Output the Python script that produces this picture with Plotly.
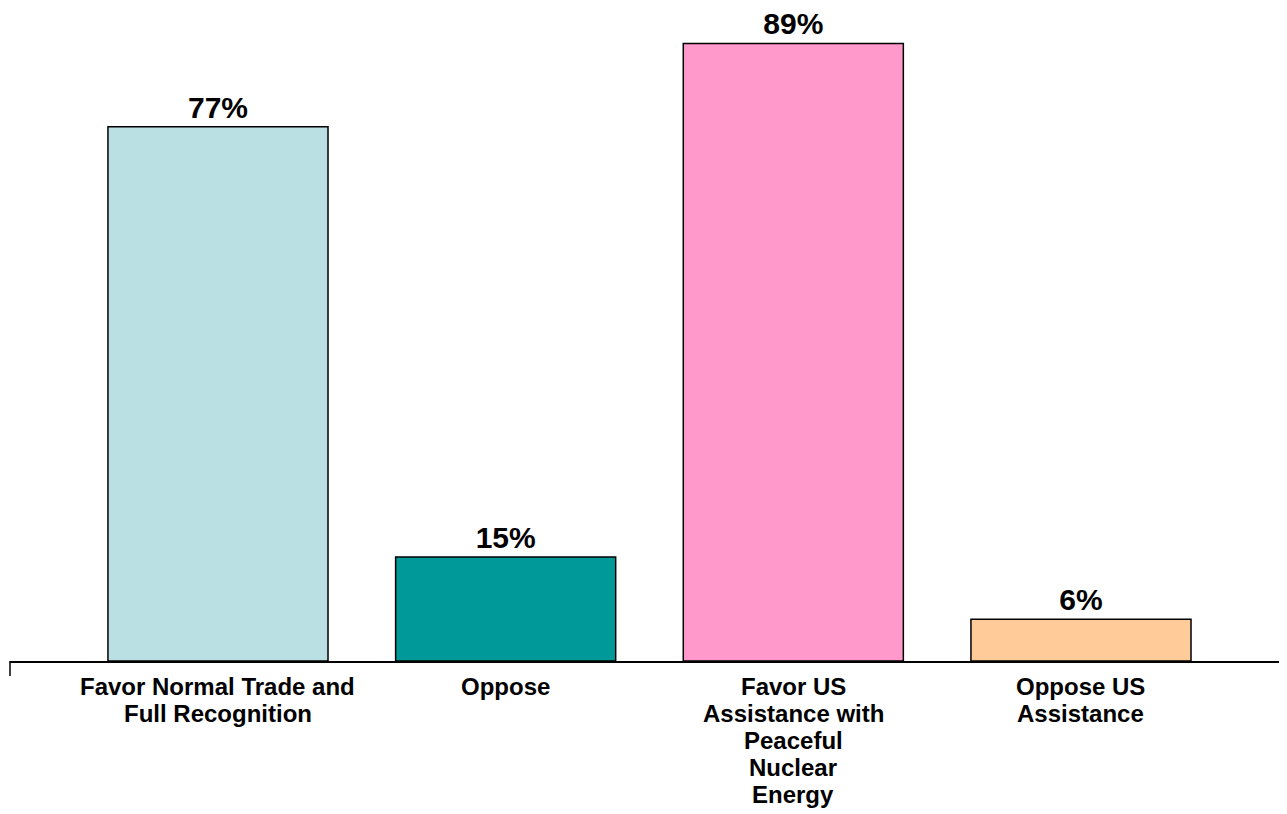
import plotly.graph_objects as go

categories = [
    "Favor Normal Trade and<br>Full Recognition",
    "Oppose",
    "Favor US<br>Assistance with<br>Peaceful<br>Nuclear<br>Energy",
    "Oppose US<br>Assistance",
]
values = [77, 15, 89, 6]
colors = ["#BBE0E3", "#009999", "#FF99CC", "#FFCC99"]

FONT = "Liberation Sans, Arial, sans-serif"

fig = go.Figure(
    go.Bar(
        x=list(range(len(categories))),
        y=values,
        marker=dict(color=colors, line=dict(color="black", width=1.5)),
        width=0.765,
        text=[f"<b>{v}%</b>" for v in values],
        textposition="outside",
        textfont=dict(family=FONT, size=30, color="black"),
        cliponaxis=False,
    )
)

fig.update_xaxes(
    range=[-0.723, 3.744],
    showticklabels=False,
    showline=True,
    linecolor="black",
    linewidth=1.5,
    ticks="",
    showgrid=False,
    zeroline=False,
)
fig.update_yaxes(range=[0, 94.1], visible=False, showgrid=False)

# category labels, one annotation per line so the line spacing stays tight
for i, label in enumerate(categories):
    for j, line in enumerate(label.split("<br>")):
        fig.add_annotation(
            x=i, y=0, xref="x", yref="y",
            text=f"<b>{line}</b>",
            showarrow=False,
            yanchor="middle",
            yshift=-25 - 27 * j,
            font=dict(family=FONT, size=24, color="black"),
        )

# small tick at left end of the axis line
fig.add_shape(
    type="line", xref="paper", yref="paper",
    x0=0, x1=0, y0=0, y1=-15 / 653,
    line=dict(color="black", width=1.5),
)

fig.update_layout(
    width=1287,
    height=814,
    margin=dict(l=2, r=0, t=0, b=161),
    plot_bgcolor="white",
    paper_bgcolor="white",
    showlegend=False,
    font=dict(family=FONT),
)

fig.write_html("out.html")
